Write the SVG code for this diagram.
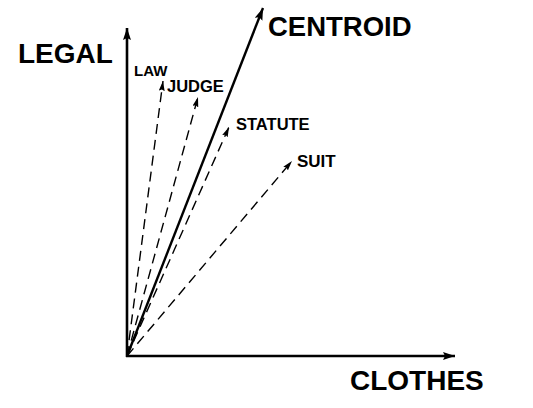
<svg xmlns="http://www.w3.org/2000/svg" width="533" height="408" viewBox="0 0 533 408">
<style>
text{font-family:"Liberation Sans",Arial,sans-serif;font-weight:bold;fill:#000}
.axis{stroke:#000;stroke-width:2.6;fill:none}
.cent{stroke:#000;stroke-width:2.4;fill:none}
.dash{stroke:#000;stroke-width:1.4;fill:none;stroke-dasharray:10 6}
</style>
<defs>
<marker id="big" markerUnits="userSpaceOnUse" markerWidth="14" markerHeight="10" refX="12" refY="4" orient="auto"><path d="M0,0 L12,4 L0,8 L2,4 Z" fill="#000"/></marker>
<marker id="small" markerUnits="userSpaceOnUse" markerWidth="12" markerHeight="8" refX="10" refY="3" orient="auto"><path d="M0,0 L10,3 L0,6 L1.5,3 Z" fill="#000"/></marker>
</defs>
<g id="connectors">
<line class="axis" x1="127" y1="357" x2="127" y2="28" marker-end="url(#big)"/>
<line class="axis" x1="126" y1="356" x2="455" y2="356" marker-end="url(#big)"/>
<line class="cent" x1="127" y1="356" x2="263" y2="8" marker-end="url(#big)"/>
<line class="dash" x1="127" y1="356" x2="163" y2="81" marker-end="url(#small)"/>
<line class="dash" x1="127" y1="356" x2="198" y2="97" marker-end="url(#small)"/>
<line class="dash" x1="127" y1="356" x2="229" y2="127" marker-end="url(#small)"/>
<line class="dash" x1="127" y1="356" x2="292" y2="161" marker-end="url(#small)"/>
</g>
<g id="legal"><text x="18" y="63" font-size="28">LEGAL</text></g>
<g id="centroid"><text x="268" y="36" font-size="27.5">CENTROID</text></g>
<g id="clothes"><text x="350" y="390" font-size="28">CLOTHES</text></g>
<g id="law"><text x="134" y="76" font-size="15">LAW</text></g>
<g id="judge"><text x="167" y="92" font-size="16.5">JUDGE</text></g>
<g id="statute"><text x="236" y="130" font-size="16.5">STATUTE</text></g>
<g id="suit"><text x="297" y="167" font-size="17">SUIT</text></g>
</svg>
